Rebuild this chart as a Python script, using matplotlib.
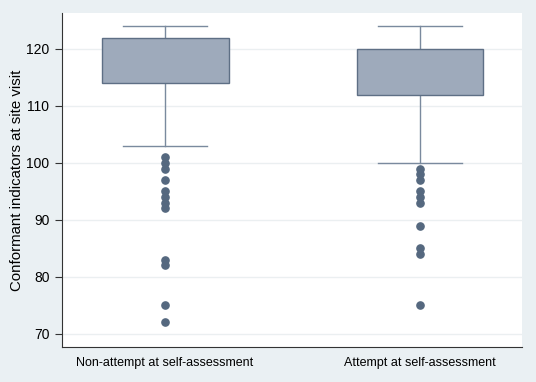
import matplotlib
matplotlib.use("Agg")
import matplotlib.pyplot as plt

categories = ["Non-attempt at self-assessment", "Attempt at self-assessment"]
# box statistics: (lower whisker, q1, median, q3, upper whisker)
lower_whisker = [103, 100]
q1 = [114, 112]
median = [119, 117]
q3 = [122, 120]
upper_whisker = [124, 124]
outliers = [
    [101, 100, 99, 97, 95, 94, 93, 92, 83, 82, 75, 72],
    [99, 98, 97, 95, 94, 93, 89, 85, 84, 75],
]
yticks = [70, 80, 90, 100, 110, 120]

plt.rcParams['font.family'] = ['Liberation Sans', 'DejaVu Sans']
fig = plt.figure(figsize=(5.36, 3.82), dpi=100)
bg = "#EAF0F3"
fig.patch.set_facecolor(bg)
ax = fig.add_axes([62/536, 1-347/382, (522-62)/536, (347-13)/382])
ax.set_facecolor("white")

stats = []
for i, lab in enumerate(categories):
    stats.append(dict(label=lab, whislo=lower_whisker[i], q1=q1[i], med=median[i],
                      q3=q3[i], whishi=upper_whisker[i], fliers=outliers[i]))

edge = "#5E6F85"
bp = ax.bxp(stats, positions=[1, 2], widths=0.498, patch_artist=True, showfliers=True,
            boxprops=dict(facecolor="#9EAABB", edgecolor=edge, linewidth=1.0),
            medianprops=dict(color="#5A6B82", linewidth=1.2),
            whiskerprops=dict(color="#7A8A9E", linewidth=1.0),
            capprops=dict(color="#7A8A9E", linewidth=1.0),
            capwidths=0.333,
            flierprops=dict(marker="o", markerfacecolor="#55687F", markeredgecolor="#55687F",
                            markersize=5.2, linestyle="none"))
for b in bp["boxes"]:
    b.set_zorder(3)

ax.set_xlim(0.596, 2.4)
ax.set_ylim(67.7, 126.3)
ax.set_yticks(yticks)
ax.set_yticklabels([str(t) for t in yticks], fontsize=10)
ax.yaxis.grid(True, color="#EBEFF1", linewidth=1.0)
ax.set_axisbelow(True)
ax.tick_params(axis="y", length=5, width=0.8, color="#333333", pad=4)
ax.tick_params(axis="x", length=0, labelsize=9, pad=7)
ax.set_xticks([1, 2])
ax.set_xticklabels(categories)
for s in ["top", "right"]:
    ax.spines[s].set_visible(False)
for s in ["left", "bottom"]:
    ax.spines[s].set_color("#333333")
    ax.spines[s].set_linewidth(0.8)
ax.set_ylabel("Conformant indicators at site visit", fontsize=10.8, va="center")
ax.yaxis.set_label_coords((17 - 62) / 460, 0.5)

fig.savefig("out.png", dpi=100, facecolor=bg)
